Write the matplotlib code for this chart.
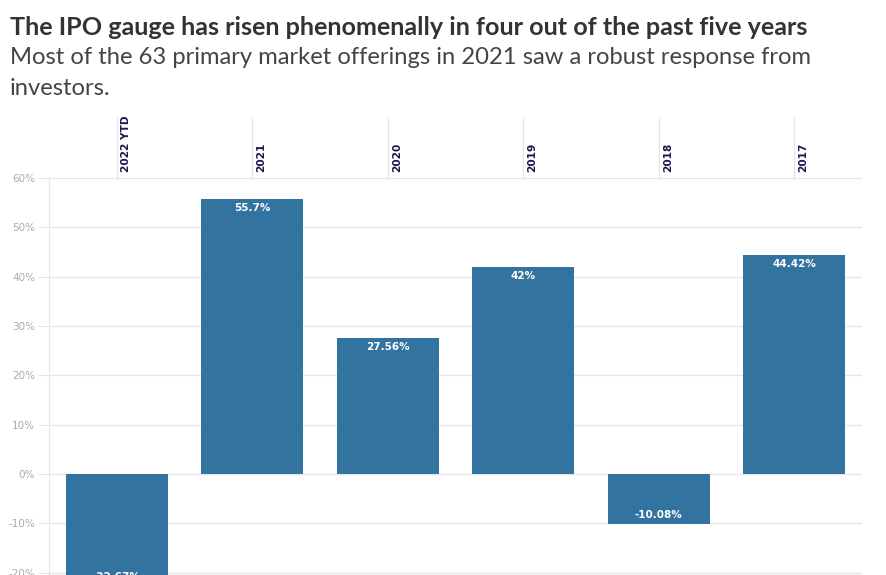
import matplotlib.pyplot as plt
from matplotlib.transforms import blended_transform_factory

years = ["2022 YTD", "2021", "2020", "2019", "2018", "2017"]
gains = [-22.67, 55.7, 27.56, 42.0, -10.08, 44.42]
labels = ["-22.67%", "55.7%", "27.56%", "42%", "-10.08%", "44.42%"]
yticks = [-20, -10, 0, 10, 20, 30, 40, 50, 60]

bar_color = "#33739f"
grid_color = "#e6e6e6"

fig = plt.figure(figsize=(8.86, 5.75), dpi=100)
ax = fig.add_axes([49 / 886, 0, 813 / 886, 397 / 575])

x = list(range(len(years)))
ax.bar(x, gains, width=0.75, color=bar_color, zorder=2)

for xi, v, lab in zip(x, gains, labels):
    off = -6.5 if v > 0 else 6.5
    ax.annotate(lab, (xi, v), xytext=(0, off), textcoords="offset points",
                ha="center", va="center", color="white", fontsize=7.5,
                fontweight="bold", zorder=3, annotation_clip=False)

ax.set_xlim(-0.5, 5.5)
ax.set_ylim(-20.47, 60)
ax.set_yticks(yticks)
ax.set_yticklabels([f"{t}%" for t in yticks], fontsize=7.5, color="#aaaaaa")
ax.set_xticks([])
ax.tick_params(axis="y", length=8, color=grid_color, pad=2)
ax.grid(axis="y", color=grid_color, linewidth=1, zorder=0)
for s in ["top", "right", "bottom"]:
    ax.spines[s].set_visible(False)
ax.spines["left"].set_color(grid_color)

# category labels above the plot
trans = blended_transform_factory(ax.transData, ax.transAxes)
for xi, yr in zip(x, years):
    ax.plot([xi, xi], [1.0, 1.0 + 60 / 397], transform=trans, color=grid_color,
            linewidth=1, clip_on=False)
    ax.annotate(yr, (xi, 1.0), xycoords=trans, xytext=(3, 4),
                textcoords="offset points", rotation=90, ha="left", va="bottom",
                fontsize=7.6, fontweight="bold", color="#1c1650")

fig.text(10 / 886, 1 - 35 / 575, "The IPO gauge has risen phenomenally in four out of the past five years",
         fontsize=18.1, fontweight="bold", family="Lato", color="#333333", va="baseline")
fig.text(10 / 886, 1 - 64 / 575, "Most of the 63 primary market offerings in 2021 saw a robust response from",
         fontsize=17.1, family="Lato", color="#444444", va="baseline")
fig.text(10 / 886, 1 - 95 / 575, "investors.",
         fontsize=17.1, family="Lato", color="#444444", va="baseline")

plt.savefig("out.png", dpi=100)
